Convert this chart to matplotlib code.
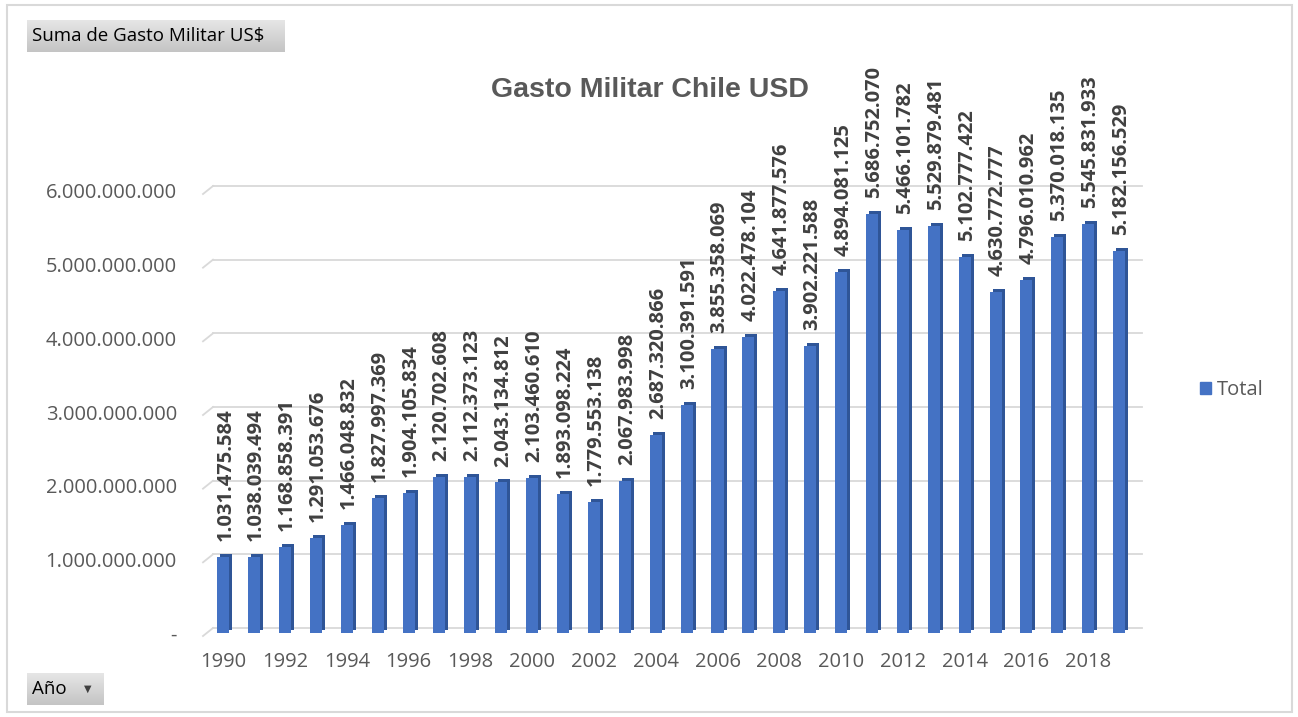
import numpy as np
import matplotlib
matplotlib.use("Agg")
import matplotlib.pyplot as plt
import matplotlib.transforms as mtransforms
from matplotlib.patches import Rectangle
from matplotlib.colors import LinearSegmentedColormap

# Gasto militar Chile, USD
years = list(range(1990, 2020))
gasto = [1031475584, 1038039494, 1168858391, 1291053676, 1466048832,
         1827997369, 1904105834, 2120702608, 2112373123, 2043134812,
         2103460610, 1893098224, 1779553138, 2067983998, 2687320866,
         3100391591, 3855358069, 4022478104, 4641877576, 3902221588,
         4894081125, 5686752070, 5466101782, 5529879481, 5102777422,
         4630772777, 4796010962, 5370018135, 5545831933, 5182156529]
yticks = [0, 1e9, 2e9, 3e9, 4e9, 5e9, 6e9]

def miles(v):
    # punto como separador de miles
    return f"{int(v):,}".replace(",", ".")

plt.rcParams['font.family'] = ['Open Sans', 'DejaVu Sans']
grey = '#595959'
blue = '#4472C4'
dark = '#2F5597'
W, H = 1298, 717

fig = plt.figure(figsize=(W/100, H/100), dpi=100)
# area del grafico (pixeles: x 213-1142, y 185-633)
ax = fig.add_axes([213/W, 1-633/H, (1142-213)/W, (633-185)/H])
ytop = 6e9 * 448 / 442
px = ytop / 448          # un pixel en unidades de datos
ax.set_ylim(0, ytop)
ax.set_xlim(-0.33, 29.74)

x = np.arange(len(years))

# lineas de division con efecto 3D (pared de fondo)
for t in yticks:
    ax.plot([0, 1], [t + 5*px, t + 5*px], transform=ax.get_yaxis_transform(),
            color='#D9D9D9', lw=1.3, zorder=0, clip_on=False)
    ax.plot([-10/929, 0], [t - 3*px, t + 5*px], transform=ax.get_yaxis_transform(),
            color='#D9D9D9', lw=1.3, zorder=0, clip_on=False)

# cara lateral / superior de las barras
shadow = mtransforms.offset_copy(ax.transData, fig=fig, x=3, y=3, units='dots')
ax.bar(x, gasto, width=0.39, color=dark, transform=shadow, zorder=2)
ax.bar(x, gasto, width=0.39, color=blue, zorder=3)

for xi, v in zip(x, gasto):
    ax.annotate(miles(v), (xi, v), xytext=(1.5, 11.5), textcoords='offset points',
                rotation=90, ha='center', va='bottom', fontsize=14.5,
                fontweight='bold', color='#404040', annotation_clip=False)

ax.set_yticks(yticks)
ax.set_yticklabels(['-' if t == 0 else miles(t) for t in yticks])
ax.set_xticks(x[::2])
ax.set_xticklabels([str(y) for y in years[::2]])
ax.tick_params(axis='both', length=0, labelsize=14.5, colors=grey)
ax.tick_params(axis='y', pad=26)
ax.tick_params(axis='x', pad=14)
for s in ax.spines.values():
    s.set_visible(False)

fig.text(650/W, 1-90/H, 'Gasto Militar Chile USD', ha='center', va='center',
         fontsize=20.5, fontweight='bold', color=grey, family='Liberation Sans')

# leyenda
ax.legend([Rectangle((0, 0), 1, 1, color=blue)], ['Total'], loc='center left',
          bbox_to_anchor=(1182/W, 1-390/H), bbox_transform=fig.transFigure,
          frameon=False, fontsize=14.5, handlelength=0.55, handleheight=0.55,
          handletextpad=0.3, labelcolor=grey)

# botones de la tabla dinamica
grad = LinearSegmentedColormap.from_list('btn', ['#E6E6E6', '#C4C4C4'])
for (bx, by, bw, bh) in [(27, 20, 258, 32), (27, 673, 77, 32)]:
    bax = fig.add_axes([bx/W, 1-(by+bh)/H, bw/W, bh/H])
    bax.imshow(np.linspace(0, 1, 50).reshape(-1, 1), aspect='auto', cmap=grad)
    bax.axis('off')
fig.text(32/W, 1-36/H, 'Suma de Gasto Militar US$', ha='left', va='center',
         fontsize=13.5, color='black')
fig.text(32/W, 1-689/H, 'Año', ha='left', va='center', fontsize=13.5, color='black')
fig.text(88/W, 1-689/H, '▼', ha='center', va='center', fontsize=7, color='#404040',
         family='DejaVu Sans')

fig.patches.append(Rectangle((7/W, 5/H), 1285/W, 707/H, transform=fig.transFigure,
                             fill=False, edgecolor='#D9D9D9', linewidth=1.5))

fig.savefig('out.png', dpi=100)
